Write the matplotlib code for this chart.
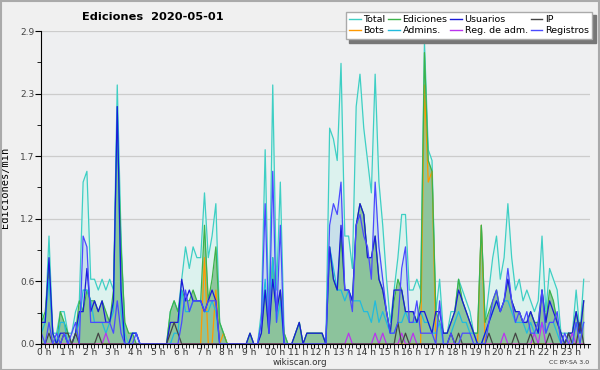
import numpy as np
import matplotlib
matplotlib.use("Agg")
import matplotlib.pyplot as plt
import matplotlib.transforms as mtransforms
from matplotlib.patches import Rectangle

# Valores cada 10 minutos (ediciones/min), 144 intervalos
total = [0.3, 0.2, 1.0, 0.1, 0.1, 0.3, 0.3, 0.1, 0.1, 0.3, 0.4, 1.5,
         1.6, 0.6, 0.6, 0.5, 0.6, 0.5, 0.6, 0.5, 2.4, 1.0, 0.1, 0.0,
         0.1, 0.1, 0.0, 0.0, 0.0, 0.0, 0.0, 0.0, 0.0, 0.0, 0.3, 0.4,
         0.3, 0.6, 0.9, 0.7, 0.9, 0.8, 0.8, 1.4, 0.8, 1.0, 1.3, 0.2,
         0.1, 0.0, 0.0, 0.0, 0.0, 0.0, 0.0, 0.1, 0.0, 0.0, 0.3, 1.8,
         0.2, 2.4, 0.5, 1.5, 0.1, 0.0, 0.0, 0.1, 0.2, 0.0, 0.1, 0.1,
         0.1, 0.1, 0.1, 0.0, 2.0, 1.9, 1.7, 2.6, 1.0, 1.0, 0.7, 2.2,
         2.5, 2.0, 1.7, 1.4, 2.5, 1.5, 1.1, 0.6, 0.2, 0.5, 0.8, 1.2,
         1.2, 0.5, 0.5, 0.6, 0.5, 2.8, 1.8, 1.7, 0.3, 0.6, 0.1, 0.1,
         0.3, 0.3, 0.6, 0.5, 0.4, 0.3, 0.1, 0.1, 1.1, 0.2, 0.5, 0.8,
         1.0, 0.6, 0.8, 1.3, 0.8, 0.5, 0.6, 0.4, 0.5, 0.4, 0.3, 0.4,
         1.0, 0.3, 0.7, 0.6, 0.5, 0.1, 0.1, 0.1, 0.1, 0.5, 0.1, 0.6]

ediciones = [0.2, 0.3, 0.7, 0.1, 0.0, 0.3, 0.2, 0.1, 0.0, 0.1, 0.4, 0.3,
             0.5, 0.4, 0.4, 0.3, 0.4, 0.3, 0.2, 0.5, 2.0, 0.9, 0.2, 0.1,
             0.1, 0.0, 0.0, 0.0, 0.0, 0.0, 0.0, 0.0, 0.0, 0.0, 0.3, 0.4,
             0.3, 0.5, 0.4, 0.4, 0.5, 0.4, 0.4, 1.1, 0.4, 0.6, 0.9, 0.2,
             0.1, 0.0, 0.0, 0.0, 0.0, 0.0, 0.0, 0.1, 0.0, 0.0, 0.1, 0.5,
             0.1, 0.8, 0.3, 0.5, 0.1, 0.0, 0.0, 0.1, 0.2, 0.0, 0.1, 0.1,
             0.1, 0.1, 0.1, 0.0, 0.9, 0.6, 0.5, 1.0, 0.5, 0.5, 0.4, 1.1,
             1.3, 1.2, 0.8, 0.8, 1.0, 0.6, 0.5, 0.3, 0.1, 0.4, 0.6, 0.5,
             0.3, 0.3, 0.3, 0.2, 0.4, 2.7, 1.7, 1.6, 0.3, 0.2, 0.1, 0.1,
             0.2, 0.3, 0.6, 0.4, 0.3, 0.2, 0.1, 0.1, 1.1, 0.2, 0.3, 0.4,
             0.5, 0.3, 0.4, 0.6, 0.4, 0.3, 0.3, 0.2, 0.2, 0.3, 0.2, 0.2,
             0.5, 0.2, 0.5, 0.4, 0.2, 0.1, 0.0, 0.1, 0.1, 0.3, 0.1, 0.4]

usuarios = [0.2, 0.2, 0.8, 0.1, 0.0, 0.1, 0.1, 0.0, 0.0, 0.1, 0.3, 0.3,
            0.7, 0.3, 0.4, 0.3, 0.4, 0.2, 0.2, 0.4, 2.2, 0.5, 0.0, 0.0,
            0.1, 0.1, 0.0, 0.0, 0.0, 0.0, 0.0, 0.0, 0.0, 0.0, 0.2, 0.2,
            0.2, 0.6, 0.4, 0.5, 0.4, 0.4, 0.4, 0.3, 0.4, 0.5, 0.4, 0.0,
            0.0, 0.0, 0.0, 0.0, 0.0, 0.0, 0.0, 0.1, 0.0, 0.0, 0.1, 0.5,
            0.1, 0.6, 0.3, 0.5, 0.0, 0.0, 0.0, 0.1, 0.2, 0.0, 0.1, 0.1,
            0.1, 0.1, 0.1, 0.0, 0.9, 0.6, 0.5, 1.1, 0.5, 0.5, 0.4, 1.1,
            1.3, 1.2, 0.8, 0.8, 1.0, 0.6, 0.5, 0.3, 0.1, 0.5, 0.5, 0.5,
            0.3, 0.3, 0.3, 0.2, 0.3, 0.3, 0.2, 0.1, 0.3, 0.3, 0.1, 0.1,
            0.2, 0.3, 0.5, 0.4, 0.3, 0.2, 0.1, 0.0, 0.0, 0.1, 0.2, 0.3,
            0.4, 0.3, 0.4, 0.6, 0.4, 0.3, 0.3, 0.2, 0.2, 0.3, 0.2, 0.1,
            0.5, 0.2, 0.4, 0.3, 0.2, 0.1, 0.0, 0.1, 0.1, 0.3, 0.1, 0.4]

ip = [0.0, 0.0, 0.1, 0.0, 0.0, 0.0, 0.1, 0.1, 0.0, 0.1, 0.0, 0.0,
      0.0, 0.0, 0.0, 0.1, 0.0, 0.0, 0.0, 0.0, 0.0, 0.0, 0.0, 0.0,
      0.0, 0.0, 0.0, 0.0, 0.0, 0.0, 0.0, 0.0, 0.0, 0.0, 0.1, 0.2,
      0.1, 0.0, 0.0, 0.0, 0.0, 0.0, 0.0, 0.0, 0.0, 0.0, 0.0, 0.0,
      0.0, 0.0, 0.0, 0.0, 0.0, 0.0, 0.0, 0.0, 0.0, 0.0, 0.0, 0.0,
      0.0, 0.0, 0.0, 0.0, 0.0, 0.0, 0.0, 0.0, 0.0, 0.0, 0.0, 0.0,
      0.0, 0.0, 0.0, 0.0, 0.0, 0.0, 0.0, 0.0, 0.0, 0.0, 0.0, 0.0,
      0.0, 0.0, 0.0, 0.0, 0.0, 0.0, 0.0, 0.0, 0.0, 0.0, 0.2, 0.0,
      0.1, 0.0, 0.0, 0.0, 0.0, 0.0, 0.0, 0.0, 0.0, 0.0, 0.0, 0.0,
      0.1, 0.0, 0.1, 0.0, 0.0, 0.0, 0.0, 0.0, 0.0, 0.0, 0.1, 0.0,
      0.0, 0.0, 0.0, 0.0, 0.0, 0.1, 0.0, 0.0, 0.0, 0.1, 0.0, 0.0,
      0.0, 0.0, 0.1, 0.0, 0.0, 0.0, 0.0, 0.1, 0.0, 0.0, 0.2, 0.0]

bots = [0.0] * 42 + [0.0, 0.8, 0.0, 0.0, 0.5, 0.0, 0.1] + [0.0] * 52 + \
       [2.4, 1.5, 1.6] + [0.0] * 12 + [1.1] + [0.0] * 27

admins = [0.1, 0.2, 0.6, 0.1, 0.0, 0.2, 0.2, 0.0, 0.0, 0.1, 0.2, 0.5,
          0.5, 0.4, 0.2, 0.2, 0.2, 0.1, 0.2, 0.3, 2.2, 0.3, 0.0, 0.0,
          0.1, 0.1, 0.0, 0.0, 0.0, 0.0, 0.0, 0.0, 0.0, 0.0, 0.0, 0.1,
          0.1, 0.5, 0.3, 0.3, 0.4, 0.4, 0.4, 0.3, 0.3, 0.4, 0.3, 0.0,
          0.0, 0.0, 0.0, 0.0, 0.0, 0.0, 0.0, 0.0, 0.0, 0.0, 0.2, 0.6,
          0.1, 0.8, 0.2, 0.4, 0.0, 0.0, 0.0, 0.0, 0.0, 0.0, 0.0, 0.0,
          0.0, 0.0, 0.0, 0.0, 0.9, 0.7, 0.5, 0.5, 0.4, 0.5, 0.4, 0.4,
          0.4, 0.3, 0.3, 0.2, 0.4, 0.2, 0.3, 0.2, 0.1, 0.1, 0.2, 0.2,
          0.3, 0.2, 0.2, 0.2, 0.3, 0.2, 0.2, 0.1, 0.1, 0.2, 0.0, 0.0,
          0.1, 0.2, 0.3, 0.2, 0.2, 0.1, 0.1, 0.0, 0.0, 0.1, 0.2, 0.3,
          0.4, 0.3, 0.4, 0.4, 0.3, 0.2, 0.2, 0.2, 0.1, 0.2, 0.1, 0.1,
          0.2, 0.1, 0.2, 0.2, 0.1, 0.0, 0.0, 0.1, 0.0, 0.2, 0.1, 0.2]

reg_adm = [0.0] * 17 + [0.1] + [0.0] * 63 + [0.1] + [0.0] * 6 + [0.1, 0.0, 0.1] + \
          [0.0] * 4 + [0.1, 0.0, 0.0, 0.1] + [0.0] * 23 + [0.1] + [0.0] * 7 + \
          [0.1, 0.0, 0.2] + [0.0] * 7 + [0.1] + [0.0] * 3

registros = [0.1, 0.0, 0.2, 0.0, 0.1, 0.0, 0.1, 0.0, 0.1, 0.2, 0.0, 1.0,
             0.9, 0.2, 0.2, 0.2, 0.2, 0.2, 0.2, 0.1, 0.4, 0.1, 0.0, 0.0,
             0.0, 0.1, 0.0, 0.0, 0.0, 0.0, 0.0, 0.0, 0.0, 0.0, 0.0, 0.0,
             0.0, 0.2, 0.5, 0.3, 0.4, 0.4, 0.4, 0.3, 0.4, 0.4, 0.4, 0.0,
             0.0, 0.0, 0.0, 0.0, 0.0, 0.0, 0.0, 0.0, 0.0, 0.0, 0.2, 1.3,
             0.1, 1.6, 0.2, 1.1, 0.0, 0.0, 0.0, 0.0, 0.0, 0.0, 0.0, 0.0,
             0.0, 0.0, 0.0, 0.0, 1.1, 1.3, 1.2, 1.5, 0.5, 0.5, 0.3, 1.1,
             1.2, 1.0, 0.9, 0.6, 1.5, 0.9, 0.6, 0.3, 0.1, 0.1, 0.2, 0.7,
             0.9, 0.2, 0.2, 0.4, 0.1, 0.1, 0.1, 0.1, 0.0, 0.4, 0.0, 0.0,
             0.1, 0.0, 0.0, 0.1, 0.1, 0.1, 0.0, 0.0, 0.0, 0.0, 0.2, 0.4,
             0.5, 0.3, 0.4, 0.7, 0.4, 0.2, 0.3, 0.2, 0.3, 0.1, 0.1, 0.2,
             0.5, 0.1, 0.2, 0.2, 0.3, 0.0, 0.1, 0.0, 0.0, 0.2, 0.0, 0.2]

yticks = [0.0, 0.58, 1.16, 1.74, 2.32, 2.9]
ytick_labels = ["0.0", "0.6", "1.2", "1.7", "2.3", "2.9"]
hour_labels = ["%d h" % h for h in range(24)]

x = np.arange(len(total)) / 6.0

fig = plt.figure(figsize=(6, 3.7), dpi=100, facecolor="#f0f0f0")
ax = fig.add_axes([0.069, 0.0703, 0.914, 0.8459])
ax.set_facecolor("#eeeff1")

ax.fill_between(x, total, color="#dcf2ee", lw=0)
ax.fill_between(x, registros, color="#c4dcea", alpha=0.8, lw=0)
ax.fill_between(x, ediciones, color="#86c094", alpha=0.9, lw=0)

lw = 0.9
ax.plot(x, total, color="#3ecfc4", lw=lw, label="Total")
ax.plot(x, bots, color="#ff9900", lw=lw, label="Bots")
ax.plot(x, ediciones, color="#3cb34a", lw=lw, label="Ediciones")
ax.plot(x, admins, color="#22bbdd", lw=lw, label="Admins.")
ax.plot(x, usuarios, color="#1a1ad8", lw=lw, label="Usuarios")
ax.plot(x, reg_adm, color="#bb33ee", lw=lw, label="Reg. de adm.")
ax.plot(x, ip, color="#444444", lw=lw, label="IP")
ax.plot(x, registros, color="#4a4aff", lw=lw, label="Registros")

ax.set_xlim(0, 24.1)
ax.set_ylim(0, 2.9)
for s in ["top", "right"]:
    ax.spines[s].set_visible(False)
ax.spines["left"].set_color("black")
ax.spines["bottom"].set_color("black")

ax.set_yticks(yticks)
ax.set_yticklabels(ytick_labels, fontsize=6.5, color="#444444")
ax.set_yticks([0.29, 0.87, 1.45, 2.03, 2.61], minor=True)
ax.yaxis.grid(True, color="#cccccc", lw=0.9)
ax.set_axisbelow(True)
ax.tick_params(axis="y", which="major", length=4, pad=1)
ax.tick_params(axis="y", which="minor", length=3)

ax.set_xticks(np.arange(24))
ax.set_xticklabels(hour_labels, fontsize=6.5, color="#333333", ha="left")
ax.set_xticks(np.arange(0, 24.1, 1 / 6.0), minor=True)
ax.tick_params(axis="x", which="major", length=3, pad=0)
ax.tick_params(axis="x", which="minor", length=3)
off = mtransforms.ScaledTranslation(-3 / 72, 0, fig.dpi_scale_trans)
for lab in ax.get_xticklabels():
    lab.set_transform(lab.get_transform() + off)

ax.set_ylabel("Ediciones/min", fontsize=7.5, family="DejaVu Sans Mono")
ax.yaxis.set_label_coords(-0.057, 0.5)

fig.text(0.255, 0.955, "Ediciones  2020-05-01", fontsize=8.2, fontweight="bold",
         ha="center", va="center")
fig.text(0.5, 0.02, "wikiscan.org", fontsize=6.3, color="#333333", ha="center", va="center")
fig.text(0.982, 0.02, "CC BY-SA 3.0", fontsize=4.5, color="#333333", ha="right", va="center")

# Leyenda con sombra
fig.patches.append(Rectangle((349 / 600, 1 - 43 / 370), 247 / 600, 28 / 370,
                             transform=fig.transFigure, color="#777777", zorder=5))
leg = fig.legend(loc="upper left", bbox_to_anchor=(346 / 600, 1 - 12 / 370), ncol=4,
                 fontsize=6.8, frameon=True, fancybox=False, handlelength=1.2,
                 handletextpad=0.3, columnspacing=0.3, labelspacing=0.2,
                 borderpad=0.35, borderaxespad=0)
leg.get_frame().set_edgecolor("#aaaaaa")
leg.get_frame().set_facecolor("white")
leg.get_frame().set_alpha(1)
leg.set_zorder(10)
for line in leg.get_lines():
    line.set_linewidth(1.0)

fig.patches.append(Rectangle((0.001, 0.001), 0.997, 0.996, transform=fig.transFigure,
                             fill=False, edgecolor="#aaaaaa", lw=1.5))

fig.savefig("out.png", dpi=100, facecolor=fig.get_facecolor())
